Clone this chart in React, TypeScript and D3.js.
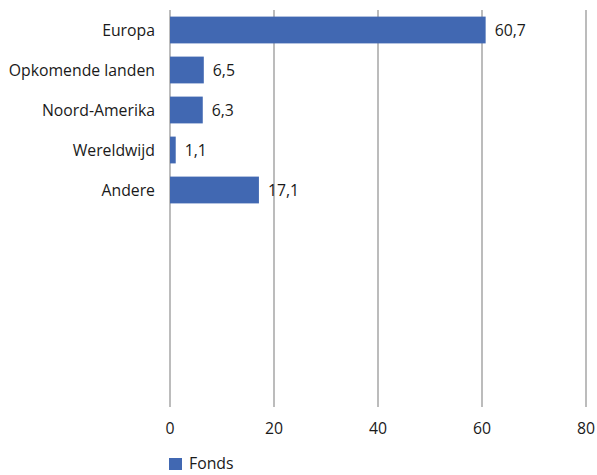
import React from "react";
import * as d3 from "d3";

const categories = ["Europa", "Opkomende landen", "Noord-Amerika", "Wereldwijd", "Andere"];
const values = [60.7, 6.5, 6.3, 1.1, 17.1];
const ticks = [0, 20, 40, 60, 80];
const seriesName = "Fonds";

export default function App() {
  const W = 597, H = 475;
  const x = d3.scaleLinear().domain([0, 80]).range([170, 586]);
  const slots = d3.range(10).map(String);
  const y = d3.scaleBand().domain(slots).range([10, 410]).paddingInner(0.33).paddingOuter(0.165);
  const font = "'Open Sans', 'Noto Sans', sans-serif";
  const fmt = (v: number) => v.toFixed(1).replace(".", ",");
  const fs = 15.8;
  return (
    <svg width={W} height={H} style={{ position: "absolute", left: 0, top: 0, fontFamily: font }}>
      {ticks.map((t) => (
        <g key={t}>
          <line x1={x(t)} x2={x(t)} y1={10} y2={407} stroke="#A6A6A6" strokeWidth={1.5} />
          <text x={x(t)} y={434} textAnchor="middle" fontSize={fs} fill="#1a1a1a">{t}</text>
        </g>
      ))}
      {categories.map((c, i) => {
        const yy = y(String(i))!;
        const bw = y.bandwidth();
        return (
          <g key={c}>
            <rect x={x(0)} y={yy} width={x(values[i]) - x(0)} height={bw} fill="#4168B2" />
            <text x={155} y={yy + bw / 2} dy="0.35em" textAnchor="end" fontSize={fs} fill="#1a1a1a">{c}</text>
            <text x={x(values[i]) + 9} y={yy + bw / 2} dy="0.35em" fontSize={fs} fill="#1a1a1a">{fmt(values[i])}</text>
          </g>
        );
      })}
      <rect x={169} y={458} width={13} height={12} fill="#4168B2" />
      <text x={189} y={469} fontSize={fs} fill="#1a1a1a">{seriesName}</text>
    </svg>
  );
}
